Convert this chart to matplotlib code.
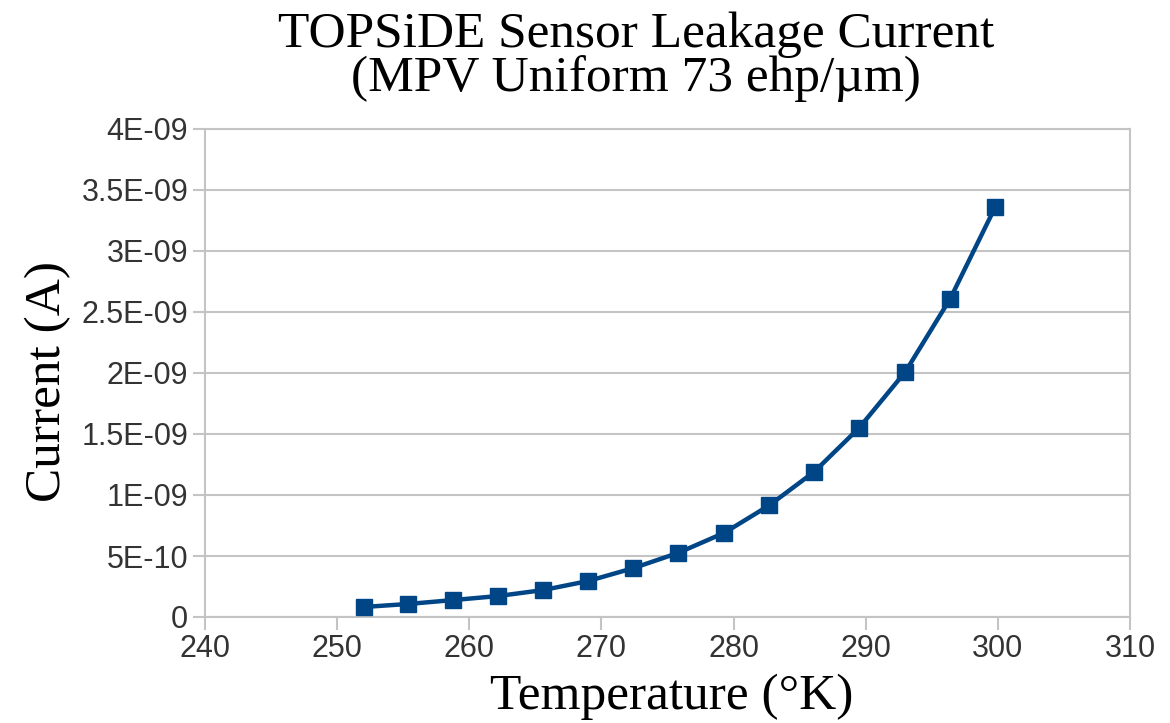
import matplotlib
matplotlib.use("Agg")
import matplotlib.pyplot as plt
from matplotlib.ticker import FixedLocator, FixedFormatter

temperature_K = [252.0, 255.4, 258.8, 262.2, 265.6, 269.0, 272.4, 275.8,
                 279.3, 282.7, 286.1, 289.5, 293.0, 296.4, 299.8]
current_A = [0.082e-9, 0.107e-9, 0.139e-9, 0.172e-9, 0.221e-9, 0.295e-9,
             0.400e-9, 0.525e-9, 0.690e-9, 0.915e-9, 1.19e-9, 1.55e-9,
             2.01e-9, 2.61e-9, 3.36e-9]

x_ticks = [240, 250, 260, 270, 280, 290, 300, 310]
y_ticks = [0, 0.5e-9, 1e-9, 1.5e-9, 2e-9, 2.5e-9, 3e-9, 3.5e-9, 4e-9]
y_tick_labels = ["0", "5E-10", "1E-09", "1.5E-09", "2E-09", "2.5E-09",
                 "3E-09", "3.5E-09", "4E-09"]

title_lines = "TOPSiDE Sensor Leakage Current\n(MPV Uniform 73 ehp/\u00b5m)"
x_label = "Temperature (\u00b0K)"
y_label = "Current (A)"

W, H = 1170, 723
fig = plt.figure(figsize=(W / 100, H / 100), dpi=100)
ax = fig.add_axes([205 / W, 1 - 617 / H, (1130 - 205) / W, (617 - 129) / H])

line_color = "#004586"
grid_color = "#c4c4c4"
ax.plot(temperature_K, current_A, color=line_color, linewidth=3.2,
        marker="s", markersize=12, markerfacecolor=line_color,
        markeredgecolor=line_color, zorder=3)

ax.set_xlim(240, 310)
ax.set_ylim(0, 4e-9)
ax.xaxis.set_major_locator(FixedLocator(x_ticks))
ax.set_xticklabels([str(t) for t in x_ticks])
ax.yaxis.set_major_locator(FixedLocator(y_ticks))
ax.yaxis.set_major_formatter(FixedFormatter(y_tick_labels))

ax.grid(axis="y", color=grid_color, linewidth=1.5)
ax.set_axisbelow(True)
for s in ax.spines.values():
    s.set_color(grid_color)
    s.set_linewidth(1.5)

ax.tick_params(axis="both", direction="out", length=9, width=1.5,
               color=grid_color, labelcolor="#333333", labelsize=22,
               pad=3)
for lab in ax.get_xticklabels() + ax.get_yticklabels():
    lab.set_fontfamily("Liberation Sans")

serif = "Liberation Serif"
fig.text(636 / W, 1 - 57 / H, title_lines, ha="center", va="center",
         fontsize=37, fontfamily=serif, linespacing=0.92)
fig.text(672 / W, 1 - 697 / H, x_label, ha="center", va="center",
         fontsize=37, fontfamily=serif)
fig.text(48 / W, 1 - 382 / H, y_label, ha="center", va="center",
         fontsize=37, fontfamily=serif, rotation=90)

fig.savefig("out.png", dpi=100, facecolor="white")
